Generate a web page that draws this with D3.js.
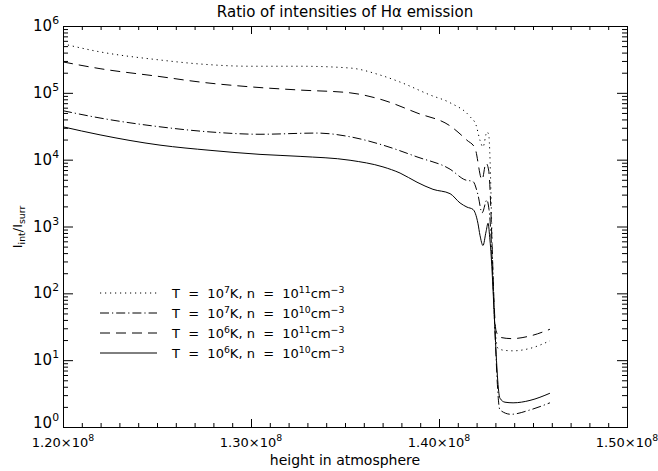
<!DOCTYPE html>
<html>
<head>
<meta charset="utf-8">
<script src="https://cdn.jsdelivr.net/npm/d3@7"></script>
<style>
body { margin: 0; background: #fff; }
text { font-family: "DejaVu Sans", sans-serif; fill: #000; white-space: pre; }
</style>
</head>
<body>
<script>
// heights (cm) and intensity ratios I_int/I_surr
var hT7n11 = [1.2000e8, 1.2197e8, 1.2516e8, 1.2729e8, 1.2995e8, 1.3261e8, 1.3527e8, 1.3686e8, 1.3793e8,
              1.3952e8, 1.4059e8, 1.4165e8, 1.4197e8, 1.4218e8, 1.4234e8, 1.4255e8, 1.4264e8, 1.4295e8,
              1.4314e8, 1.4351e8, 1.4394e8, 1.4484e8, 1.4590e8];
var rT7n11 = [5.4e5, 4.1e5, 3.1e5, 2.7e5, 2.5e5, 2.5e5, 2.35e5, 1.85e5, 1.45e5,
              9.3e4, 7.1e4, 4.4e4, 3.3e4, 1.95e4, 1.55e4, 2.6e4, 2.4e4, 40,
              15, 14, 13.8, 15, 19.5];

var hT7n10 = [1.2000e8, 1.2197e8, 1.2516e8, 1.2782e8, 1.3048e8, 1.3351e8, 1.3527e8, 1.3702e8, 1.3883e8,
              1.4059e8, 1.4138e8, 1.4181e8, 1.4207e8, 1.4229e8, 1.4255e8, 1.4266e8, 1.4324e8, 1.4383e8,
              1.4484e8, 1.4590e8];
var rT7n10 = [5.4e4, 4.2e4, 3.1e4, 2.6e4, 2.4e4, 2.5e4, 2.2e4, 1.65e4, 1.1e4,
              7.2e3, 5.0e3, 4.7e3, 3.0e3, 1.6e3, 2.5e3, 1.8e3, 1.8, 1.55,
              1.8, 2.3];

var hT6n11 = [1.2000e8, 1.2197e8, 1.2516e8, 1.2729e8, 1.2995e8, 1.3261e8, 1.3527e8, 1.3702e8, 1.3883e8,
              1.4059e8, 1.4149e8, 1.4191e8, 1.4229e8, 1.4250e8, 1.4264e8, 1.4303e8, 1.4324e8, 1.4388e8,
              1.4484e8, 1.4590e8];
var rT6n11 = [2.9e5, 2.3e5, 1.75e5, 1.45e5, 1.23e5, 1.1e5, 1.0e5, 7.8e4, 5.0e4,
              3.2e4, 1.95e4, 1.5e4, 5.0e3, 8.9e3, 7.0e3, 28, 22, 21,
              23, 29];

var hT6n10 = [1.2000e8, 1.2197e8, 1.2516e8, 1.2782e8, 1.3048e8, 1.3261e8, 1.3527e8, 1.3702e8, 1.3793e8,
              1.3883e8, 1.3968e8, 1.4059e8, 1.4112e8, 1.4149e8, 1.4181e8, 1.4207e8, 1.4218e8, 1.4234e8,
              1.4250e8, 1.4261e8, 1.4271e8, 1.4324e8, 1.4351e8, 1.4394e8, 1.4484e8, 1.4590e8];
var rT6n10 = [3.1e4, 2.35e4, 1.65e4, 1.38e4, 1.2e4, 1.12e4, 9.8e3, 7.8e3, 6.3e3,
              4.6e3, 3.6e3, 3.1e3, 2.25e3, 1.95e3, 1.8e3, 1.12e3, 7.4e2, 5.2e2,
              8.3e2, 1.12e3, 6.3e2, 2.7, 2.35, 2.3, 2.5, 3.2];

// legend: temperature and density exponents
var legendTexp = ["7", "7", "6", "6"];
var legendNexp = ["11", "10", "11", "10"];

var xTicks = [1.2e8, 1.3e8, 1.4e8, 1.5e8];
var xTickLabels = ["1.20", "1.30", "1.40", "1.50"];
var xTickExp = "8";
var yTicks = [1, 10, 100, 1000, 1e4, 1e5, 1e6];
var yTickExp = ["0", "1", "2", "3", "4", "5", "6"];

var svgWidth = 658;
var svgHeight = 471;
var margin = { top: 26, right: 31, bottom: 44, left: 63 };
var width = svgWidth - margin.left - margin.right;
var height = svgHeight - margin.top - margin.bottom;

var svg = d3.select("body").append("svg")
    .attr("width", svgWidth)
    .attr("height", svgHeight);

var chartGroup = svg.append("g")
    .attr("transform", `translate(${margin.left}, ${margin.top})`);

var xScale = d3.scaleLinear().domain([1.2e8, 1.5e8]).range([0, width]);
var yScale = d3.scaleLog().domain([1, 1e6]).range([height, 0]);

// minor tick positions
var xMinor = d3.range(1.2e8, 1.5e8 + 1, 1e6);
var yMinor = [];
yTicks.slice(0, -1).forEach(function(d) {
    for (var k = 2; k <= 9; k++) yMinor.push(d * k);
});

function tickAxis(axis, vals, size) {
    return axis.tickValues(vals).tickSize(size).tickFormat("");
}

var axes = [
    [d3.axisBottom(xScale), xMinor, -4, `translate(0, ${height})`],
    [d3.axisBottom(xScale), xTicks, -8, `translate(0, ${height})`],
    [d3.axisTop(xScale), xMinor, -4, null],
    [d3.axisTop(xScale), xTicks, -8, null],
    [d3.axisLeft(yScale), yMinor, -5, null],
    [d3.axisLeft(yScale), yTicks, -10, null],
    [d3.axisRight(yScale), yMinor, -5, `translate(${width}, 0)`],
    [d3.axisRight(yScale), yTicks, -10, `translate(${width}, 0)`]
];
axes.forEach(function(a) {
    var g = chartGroup.append("g").call(tickAxis(a[0], a[1], a[2]));
    if (a[3]) g.attr("transform", a[3]);
    g.selectAll("path, line").attr("stroke", "#000").attr("stroke-width", 1);
});

// text with superscripts / subscripts
function richText(sel, parts, size) {
    parts.forEach(function(p, i) {
        var t = sel.append("tspan").text(p[0]);
        var prev = i > 0 ? parts[i - 1][1] : 0;
        var shift = p[1] - prev;
        if (shift !== 0) t.attr("dy", -shift);
        if (p[1] !== 0) t.attr("font-size", size * 0.72);
    });
    return sel;
}

// y tick labels (the bottom one sits above the x labels)
yTicks.forEach(function(d, i) {
    var t = chartGroup.append("text")
        .attr("x", -4)
        .attr("y", yScale(d) + (i === 0 ? 1 : 5))
        .attr("text-anchor", "end")
        .attr("font-size", 15);
    richText(t, [["10", 0], [yTickExp[i], 7]], 15);
});

// x tick labels
xTicks.forEach(function(d, i) {
    var t = chartGroup.append("text")
        .attr("x", xScale(d))
        .attr("y", height + 20)
        .attr("text-anchor", "middle")
        .attr("font-size", 13);
    richText(t, [[xTickLabels[i] + "×10", 0], [xTickExp, 6]], 13);
});

svg.append("text")
    .attr("x", margin.left + width / 2)
    .attr("y", 17)
    .attr("text-anchor", "middle")
    .attr("font-size", 15)
    .text("Ratio of intensities of Hα emission");

svg.append("text")
    .attr("x", margin.left + width / 2)
    .attr("y", 465)
    .attr("text-anchor", "middle")
    .attr("font-size", 14)
    .text("height in atmosphere");

var yTitle = svg.append("text")
    .attr("transform", "translate(22, 227) rotate(-90)")
    .attr("text-anchor", "middle")
    .attr("font-size", 13);
richText(yTitle, [["I", 0], ["int", -3], ["/I", 0], ["surr", -3]], 13);

var series = [
    { h: hT7n11, r: rT7n11, dash: "1.2,3.8" },
    { h: hT7n10, r: rT7n10, dash: "9,3,1.2,3" },
    { h: hT6n11, r: rT6n11, dash: "10,6" },
    { h: hT6n10, r: rT6n10, dash: null }
];

var line = d3.line()
    .x(d => xScale(d[0]))
    .y(d => yScale(d[1]))
    .curve(d3.curveMonotoneX);

series.forEach(function(s) {
    chartGroup.append("path")
        .attr("d", line(d3.zip(s.h, s.r)))
        .attr("fill", "none")
        .attr("stroke", "#000")
        .attr("stroke-width", 1)
        .attr("stroke-dasharray", s.dash);
});

// legend
series.forEach(function(s, i) {
    var ly = 267 + i * 20;
    chartGroup.append("line")
        .attr("x1", 37).attr("x2", 94)
        .attr("y1", ly).attr("y2", ly)
        .attr("stroke", "#000")
        .attr("stroke-width", 1)
        .attr("stroke-dasharray", s.dash);
    var t = chartGroup.append("text")
        .attr("x", 109)
        .attr("y", ly + 5)
        .attr("font-size", 13);
    richText(t, [["T  =  10", 0], [legendTexp[i], 5], ["K, n  =  10", 0],
                 [legendNexp[i], 5], ["cm", 0], ["−3", 5]], 13);
});
</script>
</body>
</html>
